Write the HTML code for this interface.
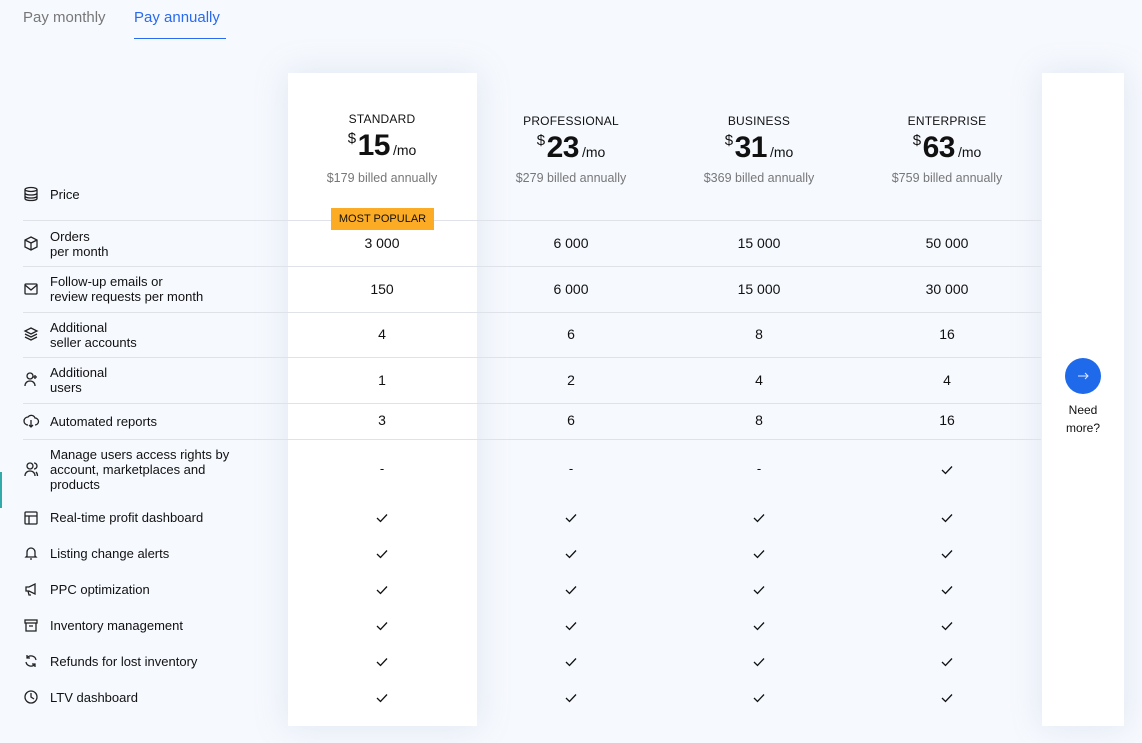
<!DOCTYPE html>
<html><head><meta charset="utf-8"><style>
*{margin:0;padding:0;box-sizing:border-box}
body{width:1142px;height:743px;background:#f6f9fe;font-family:"Liberation Sans",sans-serif;color:#111;position:relative;overflow:hidden;font-size:13px}
.a{position:absolute}
.tab{top:9px;font-size:15px}
.card{left:288px;top:73px;width:189px;height:653px;background:#fff;box-shadow:0 0 30px rgba(160,175,200,.25)}
.rp{left:1042px;top:73px;width:82px;height:653px;background:#fff;box-shadow:0 0 30px rgba(160,175,200,.25)}
.line{left:23px;width:1018px;height:1px;background:#dfe2e8}
.c{width:188px;text-align:center;margin-left:-94px}
.lab{left:50px;line-height:15px;font-size:13px}
.pn{font-size:12px;letter-spacing:.2px}
.pr{font-size:30px;font-weight:bold;letter-spacing:-.5px}
.pr sup{font-size:15px;font-weight:normal;vertical-align:12px;margin-right:2px}
.pr small{font-size:14px;font-weight:normal;margin-left:3px;letter-spacing:0}
.ba{font-size:12.5px;color:#777}
</style></head><body>
<div class="a tab" style="left:23px;color:#777">Pay monthly</div>
<div class="a tab" style="left:134px;color:#2a6af0">Pay annually</div>
<div class="a" style="left:134px;top:38px;width:92px;height:1px;background:#2a6af0"></div>
<div class="a card"></div>
<div class="a rp"></div>
<div class="a line" style="top:220px"></div>
<div class="a line" style="top:266px"></div>
<div class="a line" style="top:312px"></div>
<div class="a line" style="top:357px"></div>
<div class="a line" style="top:403px"></div>
<div class="a line" style="top:439px"></div>
<div class="a" style="left:0;top:472px;width:2px;height:36px;background:#3aa"></div>

<div class="a c pn" style="left:382px;top:112px">STANDARD</div>
<div class="a c pn" style="left:571px;top:114px">PROFESSIONAL</div>
<div class="a c pn" style="left:759px;top:114px">BUSINESS</div>
<div class="a c pn" style="left:947px;top:114px">ENTERPRISE</div>
<div class="a c pr" style="left:382px;top:129px"><sup>$</sup>15<small>/mo</small></div>
<div class="a c pr" style="left:571px;top:131px"><sup>$</sup>23<small>/mo</small></div>
<div class="a c pr" style="left:759px;top:131px"><sup>$</sup>31<small>/mo</small></div>
<div class="a c pr" style="left:947px;top:131px"><sup>$</sup>63<small>/mo</small></div>
<div class="a c ba" style="left:382px;top:171px">$179 billed annually</div>
<div class="a c ba" style="left:571px;top:171px">$279 billed annually</div>
<div class="a c ba" style="left:759px;top:171px">$369 billed annually</div>
<div class="a c ba" style="left:947px;top:171px">$759 billed annually</div>
<div class="a" style="left:331px;top:208px;width:103px;height:22px;background:#fbab24;font-size:11px;text-align:center;line-height:22px">MOST POPULAR</div>

<div class="a lab" style="top:187px">Price</div>
<div class="a lab" style="top:229px">Orders<br>per month</div>
<div class="a lab" style="top:274px">Follow-up emails or<br>review requests per month</div>
<div class="a lab" style="top:320px">Additional<br>seller accounts</div>
<div class="a lab" style="top:365px">Additional<br>users</div>
<div class="a lab" style="top:414px">Automated reports</div>
<div class="a lab" style="top:447px">Manage users access rights by<br>account, marketplaces and<br>products</div>
<div class="a lab" style="top:510px">Real-time profit dashboard</div>
<div class="a lab" style="top:546px">Listing change alerts</div>
<div class="a lab" style="top:582px">PPC optimization</div>
<div class="a lab" style="top:618px">Inventory management</div>
<div class="a lab" style="top:654px">Refunds for lost inventory</div>
<div class="a lab" style="top:690px">LTV dashboard</div>

<svg class="a" style="left:0;top:0" width="1142" height="743" fill="none" stroke="#222" stroke-width="1.3">
<g transform="translate(24,187)"><ellipse cx="7" cy="2.5" rx="6" ry="2"/><path d="M1 2.5v9c0 1.2 2.7 2 6 2s6-.8 6-2v-9M1 6c0 1.2 2.7 2 6 2s6-.8 6-2M1 9c0 1.2 2.7 2 6 2s6-.8 6-2"/></g>
<g transform="translate(24,236)"><path d="M7 1l6 3v7l-6 3-6-3V4zM1 4l6 3 6-3M7 7v7"/></g>
<g transform="translate(24,282)"><rect x="1" y="2" width="12" height="10" rx="1"/><path d="M1 3l6 5 6-5"/></g>
<g transform="translate(24,327)"><path d="M7 1l6 3-6 3-6-3zM1 7l6 3 6-3M1 10l6 3 6-3"/></g>
<g transform="translate(24,372)"><circle cx="6" cy="4" r="3"/><path d="M1 14c0-3 2-5 5-5s5 2 5 5M11 3v4M9 5h4"/></g>
<g transform="translate(24,414)"><path d="M4 11a4 4 0 0 1 0-8 4 4 0 0 1 7 1 3 3 0 0 1 0 7M7 6v7M5 11l2 2 2-2"/></g>
<g transform="translate(24,462)"><circle cx="6" cy="4" r="3"/><path d="M1 14c0-3 2-5 5-5s5 2 5 5M10 1a3 3 0 0 1 0 6M12 10c1 1 1.5 2.5 1.5 4"/></g>
<g transform="translate(24,511)"><rect x="1" y="1" width="12" height="12" rx="1"/><path d="M1 5h12M5 5v8"/></g>
<g transform="translate(24,546)"><path d="M3 10V6a4 4 0 0 1 8 0v4l1 1H2zM6 13h2"/></g>
<g transform="translate(24,582)"><path d="M2 5h3l6-3v10l-6-3H2zM4 9l1 4h2"/></g>
<g transform="translate(24,618)"><rect x="1" y="2" width="12" height="3"/><path d="M2 5v8h10V5M5 8h4"/></g>
<g transform="translate(24,654)"><path d="M12 6a5 5 0 0 0-9-2M2 8a5 5 0 0 0 9 2M3 1v3h3M11 13v-3H8"/></g>
<g transform="translate(24,690)"><circle cx="7" cy="7" r="6"/><path d="M7 3v4l3 2"/></g>
</svg>

<div class="a c" style="left:382px;top:235px;font-size:14px">3 000</div>
<div class="a c" style="left:571px;top:235px;font-size:14px">6 000</div>
<div class="a c" style="left:759px;top:235px;font-size:14px">15 000</div>
<div class="a c" style="left:947px;top:235px;font-size:14px">50 000</div>
<div class="a c" style="left:382px;top:281px;font-size:14px">150</div>
<div class="a c" style="left:571px;top:281px;font-size:14px">6 000</div>
<div class="a c" style="left:759px;top:281px;font-size:14px">15 000</div>
<div class="a c" style="left:947px;top:281px;font-size:14px">30 000</div>
<div class="a c" style="left:382px;top:326px;font-size:14px">4</div>
<div class="a c" style="left:571px;top:326px;font-size:14px">6</div>
<div class="a c" style="left:759px;top:326px;font-size:14px">8</div>
<div class="a c" style="left:947px;top:326px;font-size:14px">16</div>
<div class="a c" style="left:382px;top:372px;font-size:14px">1</div>
<div class="a c" style="left:571px;top:372px;font-size:14px">2</div>
<div class="a c" style="left:759px;top:372px;font-size:14px">4</div>
<div class="a c" style="left:947px;top:372px;font-size:14px">4</div>
<div class="a c" style="left:382px;top:412px;font-size:14px">3</div>
<div class="a c" style="left:571px;top:412px;font-size:14px">6</div>
<div class="a c" style="left:759px;top:412px;font-size:14px">8</div>
<div class="a c" style="left:947px;top:412px;font-size:14px">16</div>
<div class="a c" style="left:382px;top:461px">-</div>
<div class="a c" style="left:571px;top:461px">-</div>
<div class="a c" style="left:759px;top:461px">-</div>

<svg class="a" style="left:0;top:0" width="1142" height="743" fill="none" stroke="#111" stroke-width="1.3">
<defs><path id="k" d="M-5 0l3.5 3.5L5-3.5"/></defs>
<use href="#k" x="947" y="470"/>
<g id="r"><use href="#k" x="382" y="518"/><use href="#k" x="571" y="518"/><use href="#k" x="759" y="518"/><use href="#k" x="947" y="518"/></g>
<use href="#r" y="36"/><use href="#r" y="72"/><use href="#r" y="108"/><use href="#r" y="144"/><use href="#r" y="180"/>
<circle cx="1083" cy="376" r="18" fill="#1f6aeb" stroke="none"/>
<path d="M1078 376h10M1085 373l3 3-3 3" stroke="#dfe8ff" stroke-width="1"/>
</svg>
<div class="a" style="left:1042px;top:401px;width:82px;text-align:center;font-size:12px;line-height:18px">Need<br>more?</div>
</body></html>
